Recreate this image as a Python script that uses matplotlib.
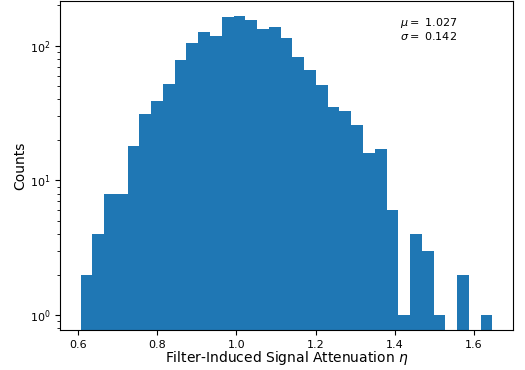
import numpy as np
import matplotlib
matplotlib.use("Agg")
import matplotlib.pyplot as plt

bin_start = 0.607
bin_end = 1.6465
n_bins = 35
counts = [2, 4, 8, 8, 18, 31, 39, 52, 79, 105, 127, 119, 164, 167, 156, 134, 138,
          115, 83, 66, 51, 35, 33, 26, 16, 17, 6, 1, 4, 3, 1, 0, 2, 0, 1]
mu_text = "1.027"
sigma_text = "0.142"

edges = np.linspace(bin_start, bin_end, n_bins + 1)
centers = 0.5 * (edges[:-1] + edges[1:])

fig = plt.figure(figsize=(5.25, 3.7), dpi=100)
ax = fig.add_axes([60/525, 1 - 330/370, (513-60)/525, (330-1)/370])
ax.hist(centers, bins=edges, weights=counts, log=True, color="#1f77b4")
ax.set_xlabel(r"Filter-Induced Signal Attenuation $\eta$", fontsize=10, labelpad=-0.5)
ax.set_ylabel("Counts", fontsize=10, labelpad=2)
ax.tick_params(labelsize=8)
ax.text(0.75, 0.955, r"$\mu = $ " + mu_text + "\n" + r"$\sigma = $ " + sigma_text,
        transform=ax.transAxes, fontsize=8, va="top", ha="left", linespacing=1.0)
fig.savefig("out.png", dpi=100)
